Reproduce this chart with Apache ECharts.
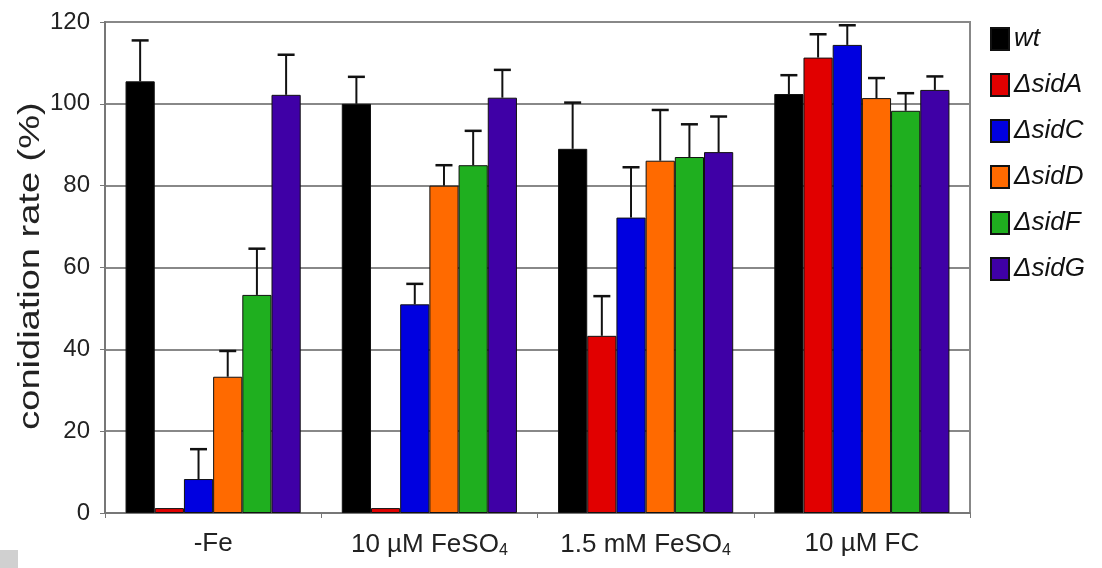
<!DOCTYPE html>
<html>
<head>
<meta charset="utf-8">
<script src="https://cdn.jsdelivr.net/npm/echarts@6/dist/echarts.min.js"></script>
<style>html,body{margin:0;padding:0;background:#fff;}#c{width:1102px;height:568px;}</style>
</head>
<body>
<div id="c"></div>
<script>
const categories = ['-Fe', '10 µM FeSO4', '1.5 mM FeSO4', '10 µM FC'];
const seriesNames = ['wt', 'ΔsidA', 'ΔsidC', 'ΔsidD', 'ΔsidF', 'ΔsidG'];
const wtMean   = [105.5, 100.0, 89.0, 102.4];
const wtErr    = [115.5, 106.6, 100.3, 107.0];
const sidAMean = [1.2, 1.2, 43.3, 111.3];
const sidAErr  = [null, null, 53.0, 117.0];
const sidCMean = [8.3, 51.0, 72.2, 114.4];
const sidCErr  = [15.6, 56.0, 84.5, 119.2];
const sidDMean = [33.3, 80.0, 86.1, 101.4];
const sidDErr  = [39.6, 85.0, 98.5, 106.3];
const sidFMean = [53.3, 85.0, 87.0, 98.3];
const sidFErr  = [64.6, 93.4, 95.0, 102.6];
const sidGMean = [102.2, 101.5, 88.2, 103.4];
const sidGErr  = [112.0, 108.3, 96.9, 106.7];
const yTicks = [0, 20, 40, 60, 80, 100, 120];
const yTitle = 'conidiation rate (%)';

const means = [wtMean, sidAMean, sidCMean, sidDMean, sidFMean, sidGMean];
const errs = [wtErr, sidAErr, sidCErr, sidDErr, sidFErr, sidGErr];
const colors = ['#000000', '#e10000', '#0000e0', '#ff6a00', '#1faf1f', '#3f00a6'];
const BAR_FRAC = 0.135;
const FONT = "'Liberation Sans', Arial, sans-serif";

const series = [];
means.forEach((m, i) => {
  series.push({
    name: seriesNames[i], type: 'bar', data: m,
    barWidth: (BAR_FRAC * 100) + '%', barGap: '0%',
    itemStyle: { color: colors[i], borderColor: '#111', borderWidth: 1 },
    z: 2
  });
});
means.forEach((m, i) => {
  const d = [];
  m.forEach((v, k) => { if (errs[i][k] != null) d.push([k, v, errs[i][k]]); });
  series.push({
    name: 'err_' + i, type: 'custom', z: 5, silent: true,
    data: d,
    renderItem: function (params, api) {
      const base = api.coord([api.value(0), api.value(1)]);
      const top = api.coord([api.value(0), api.value(2)]);
      const band = api.size([1, 0])[0];
      const bw = band * BAR_FRAC;
      const cx = base[0] + (i - 2.5) * bw;
      const cap = 8.5;
      return {
        type: 'group',
        children: [
          { type: 'line', shape: { x1: cx, y1: base[1], x2: cx, y2: top[1] }, style: { stroke: '#111', lineWidth: 2 } },
          { type: 'line', shape: { x1: cx - cap, y1: top[1], x2: cx + cap, y2: top[1] }, style: { stroke: '#111', lineWidth: 2.5 } }
        ]
      };
    }
  });
});

const chart = echarts.init(document.getElementById('c'));
chart.setOption({
  backgroundColor: '#ffffff',
  animation: false,
  textStyle: { fontFamily: FONT },
  grid: { left: 105, right: 132, top: 22, bottom: 55, show: true, borderColor: '#888', borderWidth: 2, backgroundColor: 'transparent' },
  legend: {
    orient: 'vertical', left: 985, top: 21,
    data: seriesNames, icon: 'rect',
    itemWidth: 18, itemHeight: 22, itemGap: 20,
    textStyle: { fontSize: 26, fontStyle: 'italic', color: '#111', fontFamily: FONT, lineHeight: 26 }
  },
  xAxis: {
    type: 'category', data: categories,
    axisLine: { lineStyle: { color: '#777', width: 2 } },
    axisTick: { show: true, length: 5, lineStyle: { color: '#777', width: 1 } },
    axisLabel: {
      interval: 0,
      fontSize: 26, color: '#222', margin: 18, fontFamily: FONT,
      formatter: function (v) { return v.replace(/SO4$/, 'SO{sub|4}'); },
      rich: { sub: { fontSize: 16, verticalAlign: 'bottom', padding: [12, 0, 0, 0], color: '#222', fontFamily: FONT } }
    }
  },
  yAxis: {
    type: 'value', min: yTicks[0], max: yTicks[yTicks.length - 1], interval: 20,
    axisLine: { show: true, lineStyle: { color: '#777', width: 2 } },
    axisTick: { show: true, length: 5, lineStyle: { color: '#777' } },
    axisLabel: { fontSize: 24, color: '#222', margin: 15, fontFamily: FONT },
    splitLine: { lineStyle: { color: '#888', width: 2 } }
  },
  graphic: [
    { type: 'rect', shape: { x: 0, y: 550, width: 18, height: 18 }, style: { fill: '#d0d0d0' } },
    { type: 'text', x: 31, y: 266, rotation: Math.PI / 2, scaleY: 0.78,
      style: { text: yTitle, fontSize: 38, fill: '#222', align: 'center', verticalAlign: 'middle', fontFamily: FONT } }
  ],
  series: series
});
</script>
</body>
</html>
